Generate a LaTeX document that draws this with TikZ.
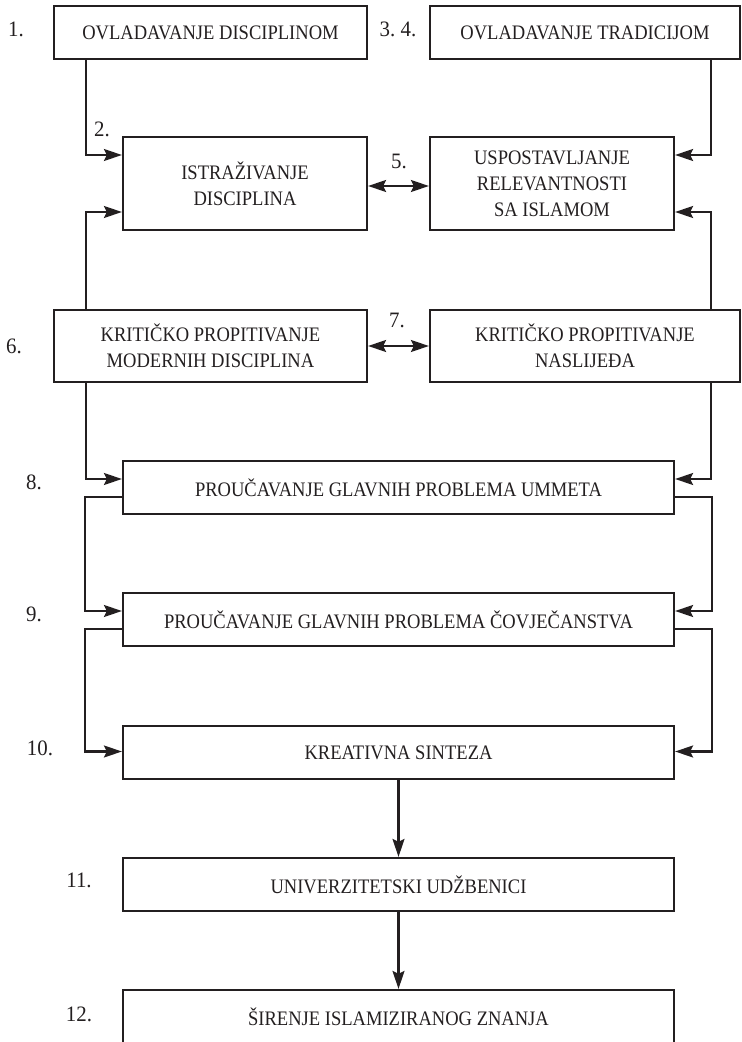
\documentclass[tikz,border=0pt]{standalone}
\usepackage{fontspec}
\setmainfont{Liberation Serif}[FakeStretch=0.9]
\newfontfamily\numfont{Liberation Serif}[FakeStretch=0.95]
\usetikzlibrary{arrows.meta}
\definecolor{ink}{HTML}{231F20}
\begin{document}
\begin{tikzpicture}[x=0.5pt,y=-0.5pt,
  box/.style={draw=ink, line width=1.1pt, align=center, inner sep=0pt,
    font=\fontsize{10.3}{13}\selectfont, text=ink},
  wide/.style={box, minimum width=275.5pt, minimum height=26.5pt},
  num/.style={font=\numfont\fontsize{11}{12}\selectfont, text=ink, inner sep=0pt},
  tip/.tip={Stealth[length=9pt,width=6pt,inset=1.5pt]},
  link/.style={draw=ink, line width=1.1pt, -tip},
  both/.style={draw=ink, line width=1.1pt, tip-tip}]
\useasboundingbox (0,0) rectangle (741,1042);
\clip (0,0) rectangle (741,1042);

% boxes
\node[box, minimum width=156.5pt, minimum height=26.5pt] (b1) at (210.5,32.5) {OVLADAVANJE DISCIPLINOM};
\node[box, minimum width=155pt, minimum height=26.5pt] (b2) at (585,32.5) {OVLADAVANJE TRADICIJOM};
\node[box, minimum width=122pt, minimum height=46.5pt] (b3) at (245,183.5) {ISTRAŽIVANJE\\DISCIPLINA};
\node[box, minimum width=122pt, minimum height=46.5pt] (b4) at (552,183.5) {USPOSTAVLJANJE\\RELEVANTNOSTI\\SA ISLAMOM};
\node[box, minimum width=156.5pt, minimum height=36pt] (b5) at (210.5,346) {KRITIČKO PROPITIVANJE\\MODERNIH DISCIPLINA};
\node[box, minimum width=155pt, minimum height=36pt] (b6) at (585,346) {KRITIČKO PROPITIVANJE\\NASLIJEĐA};
\node[wide] (b7) at (398.5,487.5) {PROUČAVANJE GLAVNIH PROBLEMA UMMETA};
\node[wide] (b8) at (398.5,619.5) {PROUČAVANJE GLAVNIH PROBLEMA ČOVJEČANSTVA};
\node[wide] (b9) at (398.5,752.5) {KREATIVNA SINTEZA};
\node[wide] (b10) at (398.5,884.5) {UNIVERZITETSKI UDŽBENICI};
\node[wide] (b11) at (398.5,1016.5) {ŠIRENJE ISLAMIZIRANOG ZNANJA};

% step numbers
\node[num] (n1) at (16,29) {1.};
\node[num] (n34) at (398,29) {3.\ 4.};
\node[num] (n2) at (102,129) {2.};
\node[num] (n5) at (399,161) {5.};
\node[num] (n6) at (14,346) {6.};
\node[num] (n7) at (397,320) {7.};
\node[num] (n8) at (34,482) {8.};
\node[num] (n9) at (34,614) {9.};
\node[num] (n10) at (40,748) {10.};
\node[num] (n11) at (79,880) {11.};
\node[num] (n12) at (79,1014) {12.};

% side rails
\coordinate (L) at (86,0);
\coordinate (R) at (711,0);

% connectors
\draw[link] (b1.south -| L) |- ([yshift=14.25pt]b3.west);
\draw[link] (b5.north -| L) |- ([yshift=-14.25pt]b3.west);
\draw[link] (b2.south -| R) |- ([yshift=14.25pt]b4.east);
\draw[link] (b6.north -| R) |- ([yshift=-14.25pt]b4.east);
\draw[both] ([yshift=-1.25pt]b3.east) -- ([yshift=-1.25pt]b4.west);
\draw[both] (b5.east) -- (b6.west);

\draw[link] (b5.south -| L) |- ([yshift=4.25pt]b7.west);
\draw[link] (b6.south -| R) |- ([yshift=4.25pt]b7.east);
\draw[link] ([yshift=-4.75pt]b7.west) -- ++(-18.5pt,0) |- ([yshift=4.25pt]b8.west);
\draw[link] ([yshift=-4.75pt]b7.east) -- ++(18.5pt,0) |- ([yshift=4.25pt]b8.east);
\draw[link] ([yshift=-4.75pt]b8.west) -- ++(-18.5pt,0) |- ([yshift=0.5pt]b9.west);
\draw[link] ([yshift=-4.75pt]b8.east) -- ++(18.5pt,0) |- ([yshift=0.5pt]b9.east);

\draw[link] (b9.south) -- (b10.north);
\draw[link] (b10.south) -- (b11.north);
\end{tikzpicture}
\end{document}
